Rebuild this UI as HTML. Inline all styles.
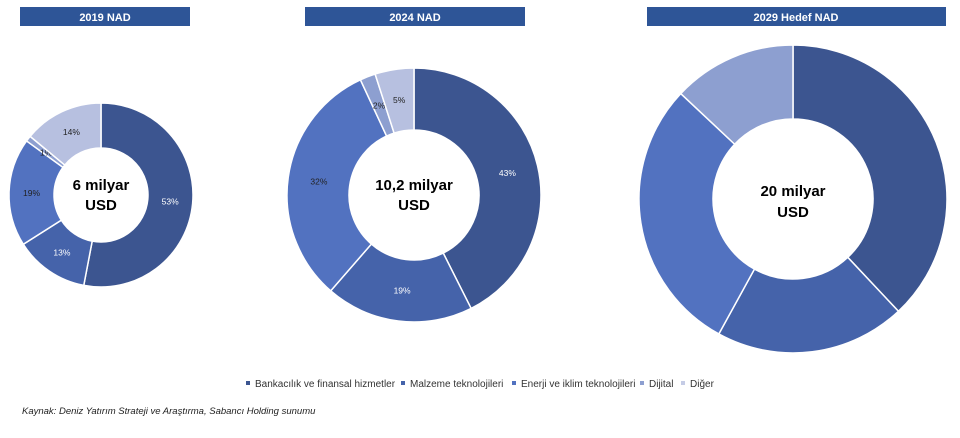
<!DOCTYPE html>
<html><head><meta charset="utf-8"><style>
body{margin:0;background:#fff;width:960px;height:433px;overflow:hidden;font-family:"Liberation Sans",sans-serif}
</style></head><body>
<svg id="s" width="960" height="433" viewBox="0 0 960 433" xmlns="http://www.w3.org/2000/svg" font-family="Liberation Sans, sans-serif">
<rect x="20" y="7" width="170" height="19" fill="#2e5597"/>
<text x="105" y="21" font-size="11" font-weight="bold" fill="#fff" text-anchor="middle">2019 NAD</text>
<rect x="305" y="7" width="220" height="19" fill="#2e5597"/>
<text x="415" y="21" font-size="11" font-weight="bold" fill="#fff" text-anchor="middle">2024 NAD</text>
<rect x="647" y="7" width="299" height="19" fill="#2e5597"/>
<text x="796" y="21" font-size="11" font-weight="bold" fill="#fff" text-anchor="middle">2029 Hedef NAD</text>
<g id="d"></g>
<text x="101" y="190" font-size="15" font-weight="bold" text-anchor="middle" fill="#000">6 milyar</text>
<text x="101" y="210" font-size="15" font-weight="bold" text-anchor="middle" fill="#000">USD</text>
<text x="414" y="190" font-size="15" font-weight="bold" text-anchor="middle" fill="#000">10,2 milyar</text>
<text x="414" y="210" font-size="15" font-weight="bold" text-anchor="middle" fill="#000">USD</text>
<text x="793" y="196" font-size="15" font-weight="bold" text-anchor="middle" fill="#000">20 milyar</text>
<text x="793" y="217" font-size="15" font-weight="bold" text-anchor="middle" fill="#000">USD</text>
<g font-size="10" fill="#333">
<rect x="246" y="381" width="4" height="4" fill="#3c5590"/><text x="255" y="387">Bankacılık ve finansal hizmetler</text>
<rect x="401" y="381" width="4" height="4" fill="#4563aa"/><text x="410" y="387">Malzeme teknolojileri</text>
<rect x="512" y="381" width="4" height="4" fill="#5272c0"/><text x="521" y="387">Enerji ve iklim teknolojileri</text>
<rect x="640" y="381" width="4" height="4" fill="#8d9fd0"/><text x="649" y="387">Dijital</text>
<rect x="681" y="381" width="4" height="4" fill="#c5cce6"/><text x="690" y="387">Diğer</text>
</g>
<text x="22" y="414" font-size="9.5" font-style="italic" fill="#222">Kaynak: Deniz Yatırım Strateji ve Araştırma, Sabancı Holding sunumu</text>
</svg>
<script>
var cols=["#3c5590","#4563aa","#5272c0","#8d9fd0","#b7c0e0"];
var charts=[
 {cx:101,cy:195,R:92,r:47,v:[53,13,19,1,14],lab:true},
 {cx:414,cy:195,R:127,r:65,v:[43,19,32,2,5],lab:true},
 {cx:793,cy:199,R:154,r:80,v:[38,20,29,13,0],lab:false}];
var g=document.getElementById("d"),h="";
function pt(cx,cy,r,a){return [cx+r*Math.sin(a),cy-r*Math.cos(a)];}
charts.forEach(function(c){
 var tot=c.v.reduce(function(a,b){return a+b},0),a0=0;
 c.v.forEach(function(v,i){
  if(!v)return;
  var a1=a0+v/tot*2*Math.PI,lg=(a1-a0)>Math.PI?1:0;
  var p1=pt(c.cx,c.cy,c.R,a0),p2=pt(c.cx,c.cy,c.R,a1),p3=pt(c.cx,c.cy,c.r,a1),p4=pt(c.cx,c.cy,c.r,a0);
  h+='<path d="M'+p1+' A'+c.R+','+c.R+' 0 '+lg+' 1 '+p2+' L'+p3+' A'+c.r+','+c.r+' 0 '+lg+' 0 '+p4+'Z" fill="'+cols[i]+'" stroke="#fff" stroke-width="1.5"/>';
  if(c.lab){var m=pt(c.cx,c.cy,(c.R+c.r)/2,(a0+a1)/2);
   var fc=i<2?"#fff":"#222";
   h+='<text x="'+m[0]+'" y="'+(m[1]+3)+'" font-size="8.5" text-anchor="middle" fill="'+fc+'">'+v+'%</text>';}
  a0=a1;});
});
g.innerHTML=h;
</script>
</body></html>
